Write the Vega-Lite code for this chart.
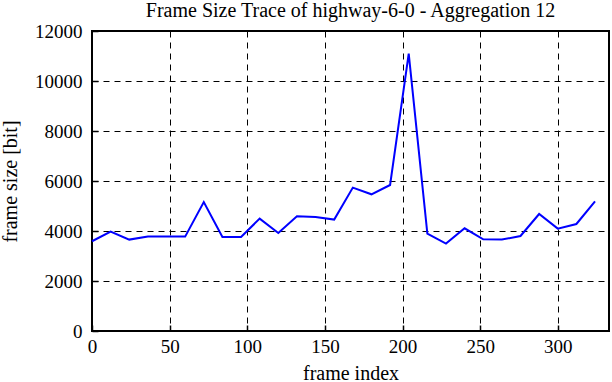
{
  "$schema": "https://vega.github.io/schema/vega-lite/v6.json",
  "width": 517,
  "height": 300,
  "autosize": {"type": "none"},
  "padding": {"left": 92, "top": 31, "right": 3, "bottom": 51},
  "background": "white",
  "title": {"text": "Frame Size Trace of highway-6-0 - Aggregation 12", "font": "Liberation Serif", "fontSize": 20, "fontWeight": "normal", "color": "black", "offset": 1, "anchor": "middle"},
  "config": {"view": {"stroke": "black", "strokeWidth": 2}},
  "data": {"values": [
    {"frame": 0, "size": 3590},
    {"frame": 12, "size": 3976},
    {"frame": 24, "size": 3656},
    {"frame": 36, "size": 3776},
    {"frame": 48, "size": 3776},
    {"frame": 60, "size": 3776},
    {"frame": 72, "size": 5160},
    {"frame": 84, "size": 3760},
    {"frame": 96, "size": 3760},
    {"frame": 108, "size": 4496},
    {"frame": 120, "size": 3920},
    {"frame": 132, "size": 4588},
    {"frame": 144, "size": 4560},
    {"frame": 156, "size": 4456},
    {"frame": 168, "size": 5736},
    {"frame": 180, "size": 5468},
    {"frame": 192, "size": 5840},
    {"frame": 204, "size": 11096},
    {"frame": 216, "size": 3896},
    {"frame": 228, "size": 3496},
    {"frame": 240, "size": 4108},
    {"frame": 252, "size": 3668},
    {"frame": 264, "size": 3656},
    {"frame": 276, "size": 3800},
    {"frame": 288, "size": 4680},
    {"frame": 300, "size": 4096},
    {"frame": 312, "size": 4280},
    {"frame": 324, "size": 5188}
  ]},
  "mark": {"type": "line", "color": "#0000ff", "strokeWidth": 2},
  "encoding": {
    "x": {"field": "frame", "type": "quantitative", "scale": {"domain": [0, 333], "nice": false, "zero": false},
      "axis": {"title": "frame index", "values": [0, 50, 100, 150, 200, 250, 300], "format": "d", "labelFlush": false, "grid": true, "gridColor": "black", "gridDash": [6, 5], "gridOpacity": 1, "gridWidth": 1,
        "domain": false, "tickSize": -6, "tickColor": "black", "tickWidth": 1.5, "labelPadding": 12, "labelFont": "Liberation Serif", "labelFontSize": 19, "labelColor": "black",
        "titleFont": "Liberation Serif", "titleFontSize": 20, "titleFontWeight": "normal", "titleColor": "black", "titlePadding": 7}},
    "y": {"field": "size", "type": "quantitative", "scale": {"domain": [0, 12000], "nice": false},
      "axis": {"title": "frame size [bit]", "values": [0, 2000, 4000, 6000, 8000, 10000, 12000], "format": "d", "labelFlush": false, "grid": true, "gridColor": "black", "gridDash": [6, 5], "gridOpacity": 1, "gridWidth": 1,
        "domain": false, "tickSize": -6, "tickColor": "black", "tickWidth": 1.5, "labelPadding": 16, "labelFont": "Liberation Serif", "labelFontSize": 19, "labelColor": "black",
        "titleFont": "Liberation Serif", "titleFontSize": 20, "titleFontWeight": "normal", "titleColor": "black", "titlePadding": 14}}
  }
}
